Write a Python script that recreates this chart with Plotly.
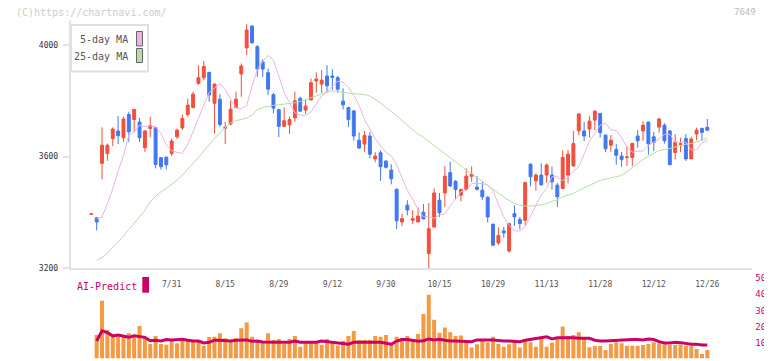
import plotly.graph_objects as go

# ---------------- data ----------------
dates = [
    "2025-07-09", "2025-07-10", "2025-07-11", "2025-07-14", "2025-07-15", "2025-07-16", "2025-07-17", "2025-07-18",
    "2025-07-22", "2025-07-23", "2025-07-24", "2025-07-25", "2025-07-28", "2025-07-29", "2025-07-30", "2025-07-31",
    "2025-08-01", "2025-08-04", "2025-08-05", "2025-08-06", "2025-08-07", "2025-08-08", "2025-08-12", "2025-08-13",
    "2025-08-14", "2025-08-15", "2025-08-18", "2025-08-19", "2025-08-20", "2025-08-21", "2025-08-22", "2025-08-25",
    "2025-08-26", "2025-08-27", "2025-08-28", "2025-08-29", "2025-09-01", "2025-09-02", "2025-09-03", "2025-09-04",
    "2025-09-05", "2025-09-08", "2025-09-09", "2025-09-10", "2025-09-11", "2025-09-12", "2025-09-16", "2025-09-17",
    "2025-09-18", "2025-09-19", "2025-09-22", "2025-09-24", "2025-09-25", "2025-09-26", "2025-09-29", "2025-09-30",
    "2025-10-01", "2025-10-02", "2025-10-03", "2025-10-06", "2025-10-07", "2025-10-08", "2025-10-09", "2025-10-10",
    "2025-10-14", "2025-10-15", "2025-10-16", "2025-10-17", "2025-10-20", "2025-10-21", "2025-10-22", "2025-10-23",
    "2025-10-24", "2025-10-27", "2025-10-28", "2025-10-29", "2025-10-30", "2025-10-31", "2025-11-04", "2025-11-05",
    "2025-11-06", "2025-11-07", "2025-11-10", "2025-11-11", "2025-11-12", "2025-11-13", "2025-11-14", "2025-11-17",
    "2025-11-18", "2025-11-19", "2025-11-20", "2025-11-21", "2025-11-25", "2025-11-26", "2025-11-27", "2025-11-28",
    "2025-12-01", "2025-12-02", "2025-12-03", "2025-12-04", "2025-12-05", "2025-12-08", "2025-12-09", "2025-12-10",
    "2025-12-11", "2025-12-12", "2025-12-15", "2025-12-16", "2025-12-17", "2025-12-18", "2025-12-19", "2025-12-22",
    "2025-12-23", "2025-12-24", "2025-12-25", "2025-12-26",
]

opens = [3393, 3381, 3576, 3611, 3665, 3692, 3668, 3751, 3733, 3724, 3632, 3701, 3704, 3596, 3598, 3611,
         3671, 3703, 3751, 3776, 3863, 3883, 3902, 3791, 3806, 3702, 3717, 3776, 3896, 3990, 4068, 3994,
         3939, 3901, 3822, 3768, 3709, 3714, 3739, 3809, 3767, 3803, 3871, 3860, 3889, 3889, 3883, 3799,
         3776, 3764, 3659, 3645, 3674, 3592, 3614, 3584, 3552, 3483, 3366, 3426, 3372, 3366, 3401, 3253,
         3348, 3444, 3470, 3543, 3512, 3462, 3483, 3530, 3491, 3480, 3455, 3358, 3291, 3334, 3262, 3396,
         3375, 3372, 3573, 3513, 3534, 3534, 3534, 3498, 3486, 3534, 3567, 3693, 3692, 3699, 3731, 3755,
         3677, 3641, 3626, 3602, 3597, 3597, 3674, 3692, 3724, 3671, 3706, 3713, 3692, 3615, 3644, 3665,
         3592, 3681, 3701, 3705]
highs = [3395, 3384, 3705, 3647, 3705, 3745, 3743, 3761, 3772, 3739, 3695, 3743, 3707, 3599, 3601, 3665,
         3701, 3751, 3808, 3833, 3928, 3943, 3904, 3863, 3824, 3725, 3800, 3833, 3934, 4075, 4071, 4000,
         3949, 3916, 3829, 3772, 3776, 3743, 3833, 3815, 3803, 3880, 3902, 3910, 3928, 3913, 3889, 3845,
         3779, 3767, 3687, 3692, 3688, 3616, 3623, 3588, 3573, 3486, 3396, 3444, 3408, 3418, 3430, 3434,
         3486, 3470, 3566, 3582, 3516, 3486, 3558, 3566, 3530, 3510, 3458, 3360, 3346, 3348, 3363, 3426,
         3384, 3510, 3576, 3540, 3576, 3576, 3564, 3506, 3623, 3623, 3692, 3755, 3725, 3745, 3767, 3757,
         3680, 3677, 3645, 3617, 3638, 3650, 3695, 3727, 3726, 3689, 3739, 3719, 3695, 3681, 3668, 3681,
         3671, 3704, 3704, 3735]
lows = [3393, 3336, 3519, 3585, 3638, 3645, 3653, 3653, 3689, 3652, 3617, 3669, 3558, 3554, 3554, 3602,
        3663, 3695, 3743, 3773, 3857, 3874, 3797, 3683, 3707, 3645, 3712, 3773, 3815, 3964, 4004, 3886,
        3886, 3821, 3755, 3670, 3707, 3682, 3725, 3761, 3753, 3803, 3829, 3829, 3829, 3839, 3829, 3769,
        3707, 3657, 3628, 3617, 3594, 3580, 3513, 3558, 3501, 3341, 3351, 3390, 3358, 3366, 3376, 3199,
        3346, 3384, 3420, 3492, 3448, 3440, 3480, 3510, 3478, 3444, 3364, 3280, 3283, 3310, 3256, 3352,
        3340, 3354, 3494, 3478, 3497, 3507, 3482, 3420, 3483, 3504, 3564, 3677, 3656, 3668, 3695, 3669,
        3616, 3617, 3571, 3564, 3567, 3567, 3632, 3657, 3607, 3620, 3686, 3647, 3571, 3589, 3617, 3585,
        3592, 3659, 3657, 3692]
closes = [3395, 3366, 3641, 3641, 3699, 3675, 3735, 3689, 3769, 3668, 3692, 3712, 3572, 3564, 3571, 3656,
          3695, 3737, 3785, 3824, 3883, 3923, 3821, 3860, 3715, 3705, 3770, 3806, 3925, 4054, 4008, 3914,
          3914, 3842, 3774, 3709, 3729, 3733, 3800, 3763, 3781, 3865, 3878, 3874, 3854, 3884, 3842, 3786,
          3733, 3674, 3631, 3676, 3609, 3602, 3564, 3562, 3521, 3370, 3378, 3409, 3378, 3387, 3377, 3342,
          3470, 3399, 3530, 3495, 3482, 3482, 3530, 3537, 3483, 3456, 3384, 3283, 3318, 3327, 3360, 3384,
          3360, 3507, 3528, 3534, 3499, 3570, 3510, 3456, 3597, 3609, 3647, 3753, 3674, 3727, 3763, 3686,
          3628, 3659, 3605, 3590, 3599, 3647, 3657, 3713, 3646, 3651, 3735, 3657, 3571, 3652, 3646, 3592,
          3663, 3695, 3687, 3695]

ma5 = [None, 3377, 3384, 3432, 3484, 3548, 3604, 3678, 3688, 3713, 3707, 3711, 3706, 3683, 3642, 3622,
       3615, 3612, 3645, 3689, 3739, 3785, 3830, 3847, 3862, 3840, 3805, 3774, 3771, 3784, 3852, 3913,
       3941, 3963, 3946, 3890, 3831, 3794, 3757, 3749, 3747, 3761, 3788, 3817, 3832, 3850, 3871, 3866,
       3848, 3820, 3784, 3733, 3700, 3665, 3638, 3616, 3603, 3572, 3524, 3479, 3448, 3411, 3384, 3386,
       3379, 3391, 3395, 3424, 3447, 3475, 3478, 3504, 3505, 3503, 3498, 3478, 3429, 3385, 3354, 3334,
       3334, 3350, 3388, 3428, 3463, 3486, 3528, 3528, 3514, 3526, 3548, 3564, 3612, 3656, 3682, 3713,
       3721, 3696, 3693, 3668, 3634, 3616, 3620, 3620, 3641, 3652, 3663, 3680, 3680, 3652, 3653, 3652,
       3624, 3625, 3650, 3657]
ma25 = [None, 3229, 3238, 3253, 3277, 3295, 3315, 3339, 3360, 3384, 3408, 3438, 3458, 3474, 3486, 3500,
        3516, 3534, 3554, 3576, 3597, 3620, 3644, 3665, 3686, 3705, 3721, 3729, 3733, 3738, 3749, 3769,
        3776, 3781, 3784, 3786, 3788, 3791, 3793, 3798, 3805, 3812, 3819, 3824, 3831, 3836, 3833, 3829,
        3827, 3825, 3824, 3823, 3817, 3806, 3793, 3776, 3763, 3747, 3729, 3712, 3696, 3681, 3669, 3654,
        3642, 3626, 3611, 3597, 3580, 3564, 3552, 3539, 3525, 3512, 3495, 3481, 3468, 3455, 3443, 3432,
        3426, 3423, 3423, 3424, 3427, 3432, 3440, 3445, 3456, 3462, 3468, 3479, 3489, 3497, 3506, 3515,
        3519, 3523, 3527, 3533, 3546, 3561, 3576, 3590, 3602, 3611, 3622, 3626, 3629, 3635, 3641, 3645,
        3647, 3653, 3659, 3665]

volume = [None, 14.6, 36.0, 17.8, 15.0, 13.6, 13.6, 15.7, 13.2, 20.3, 13.2, 9.0, 14.0, 9.0, 8.5, 11.2,
          9.5, 12.0, 11.0, 11.0, 11.0, 8.0, 13.4, 13.6, 15.7, 12.6, 11.6, 12.6, 18.8, 22.4, 13.6, 11.6,
          10.5, 15.7, 11.6, 12.2, 9.0, 12.2, 14.0, 7.4, 9.9, 9.9, 9.9, 8.5, 12.2, 10.5, 8.1, 11.0,
          14.1, 17.2, 11.6, 11.6, 11.6, 14.0, 13.6, 14.7, 8.4, 13.6, 12.6, 14.1, 11.6, 15.3, 27.8, 39.7,
          24.1, 16.1, 19.3, 16.3, 14.1, 14.3, 11.6, 6.8, 8.9, 12.2, 9.9, 13.6, 9.1, 7.4, 8.9, 10.1,
          6.8, 11.0, 10.1, 7.4, 13.0, 7.4, 9.9, 12.6, 19.9, 14.1, 14.7, 16.3, 12.6, 7.0, 7.8, 8.0,
          5.3, 9.1, 10.1, 9.5, 8.0, 8.0, 8.0, 8.4, 9.1, 10.1, 9.5, 8.9, 8.4, 8.4, 8.9, 8.0,
          8.0, 5.9, 2.8, 5.3]
ai_predict = [None, 10.9, 17.2, 16.1, 14.1, 14.7, 14.1, 13.2, 14.1, 13.6, 13.2, 11.1, 11.4, 10.9, 11.8, 11.6,
              11.6, 12.0, 11.4, 10.9, 10.9, 9.7, 10.1, 11.4, 11.4, 11.1, 10.9, 11.4, 11.6, 11.6, 10.7, 10.9,
              10.3, 10.1, 10.1, 10.1, 10.1, 10.1, 10.9, 10.1, 10.1, 10.1, 10.1, 10.9, 10.5, 9.9, 9.5, 9.3,
              8.9, 10.1, 10.1, 10.1, 10.1, 10.1, 10.1, 9.5, 8.9, 10.9, 11.8, 11.8, 11.4, 10.7, 11.1, 12.2,
              11.6, 12.0, 11.4, 10.9, 10.9, 10.9, 10.9, 10.5, 11.6, 11.8, 11.6, 11.6, 11.1, 10.9, 10.9, 10.9,
              10.5, 11.4, 12.0, 12.2, 12.8, 13.6, 12.2, 13.0, 13.0, 13.2, 13.0, 12.6, 12.6, 12.6, 11.4, 10.9,
              10.9, 11.1, 11.6, 11.6, 11.6, 11.8, 11.8, 11.6, 12.2, 11.8, 10.5, 9.7, 9.7, 10.1, 9.9, 9.3,
              8.9, 8.9, 8.4, 8.4]

label_dates = ["2025-07-31", "2025-08-15", "2025-08-29", "2025-09-12", "2025-09-30", "2025-10-15",
               "2025-10-29", "2025-11-13", "2025-11-28", "2025-12-12", "2025-12-26"]
label_text = ["7/31", "8/15", "8/29", "9/12", "9/30", "10/15", "10/29", "11/13", "11/28", "12/12", "12/26"]
price_ticks = [3200, 3600, 4000]
volume_ticks = [0, 10, 20, 30, 40, 50]

# ---------------- styling ----------------
# the page body has an 8px margin, so the figure is made 8px smaller and
# every screen position below is given in window pixels and shifted by it
OFF = 8
W, H = 772 - OFF, 361 - OFF
MONO = "DejaVu Sans Mono"
RED, BLUE = "#F0503C", "#4078EE"
PINK, GREEN = "#E8B4E8", "#B6DCAA"
CRIMSON = "#CC0066"
ORANGE = "#F39A44"
AXIS = "#E2E2E2"

def px_x(p):
    return (p - OFF) / W

def px_y(p):
    return 1 - (p - OFF) / H

x_dom = [px_x(70.7), px_x(752.3)]
x_range = [-3.85, 123.4]

fig = go.Figure()

fig.add_trace(go.Candlestick(
    x=dates, open=opens, high=highs, low=lows, close=closes,
    increasing=dict(line=dict(color=RED, width=1), fillcolor=RED),
    decreasing=dict(line=dict(color=BLUE, width=1), fillcolor=BLUE),
    whiskerwidth=0, showlegend=False, hoverinfo="skip",
    xaxis="x", yaxis="y",
))
fig.add_trace(go.Scatter(x=dates, y=ma25, mode="lines", line=dict(color=GREEN, width=1),
                         showlegend=False, hoverinfo="skip", xaxis="x", yaxis="y"))
fig.add_trace(go.Scatter(x=dates, y=ma5, mode="lines", line=dict(color=PINK, width=1),
                         showlegend=False, hoverinfo="skip", xaxis="x", yaxis="y"))

fig.add_trace(go.Bar(x=dates, y=volume, marker=dict(color=ORANGE, line=dict(width=0)),
                     showlegend=False, hoverinfo="skip", xaxis="x2", yaxis="y2"))
fig.add_trace(go.Scatter(x=dates, y=ai_predict, mode="lines", line=dict(color=CRIMSON, width=3),
                         showlegend=False, hoverinfo="skip", xaxis="x2", yaxis="y2"))

fig.update_layout(
    template="none",
    width=W, height=H, autosize=False,
    margin=dict(l=0, r=0, t=0, b=0, pad=0),
    paper_bgcolor="white", plot_bgcolor="white",
    boxgap=0.22, bargap=0.25,
    showlegend=False,
    font=dict(family=MONO, size=10, color="#444"),
    xaxis=dict(
        domain=x_dom, anchor="y", type="category", range=x_range, automargin=False,
        rangeslider=dict(visible=False),
        showgrid=False, zeroline=False,
        showline=True, linecolor=AXIS, linewidth=2,
        ticks="", tickvals=label_dates, ticktext=label_text,
        tickfont=dict(family=MONO, size=8, color="#555"),
        ticklabelstandoff=7,
    ),
    xaxis3=dict(
        domain=x_dom, anchor="y", overlaying="x", range=[0, 11], automargin=False,
        tickvals=list(range(1, 12)), ticks="outside", ticklen=5, tickwidth=2, tickcolor=AXIS,
        showticklabels=False, showgrid=False, zeroline=False, showline=False,
    ),
    xaxis4=dict(
        domain=x_dom, anchor="y", overlaying="x", range=[0, 11], automargin=False,
        tickvals=list(range(1, 12)), ticks="inside", ticklen=3, tickwidth=2, tickcolor=AXIS,
        showticklabels=False, showgrid=False, zeroline=False, showline=False,
    ),
    yaxis=dict(
        domain=[px_y(268.3), px_y(20)], anchor="x", range=[3200, 4089.7], automargin=False,
        showgrid=False, zeroline=False,
        showline=True, linecolor=AXIS, linewidth=2,
        tickvals=price_ticks, ticks="outside", ticklen=6, tickwidth=2, tickcolor=AXIS,
        tickfont=dict(family=MONO, size=8, color="#333"),
        ticklabelstandoff=3,
    ),
    xaxis2=dict(
        domain=x_dom, anchor="y2", type="category", range=x_range, matches="x", automargin=False,
        showticklabels=False, ticks="", showgrid=False, zeroline=False, showline=False,
        rangeslider=dict(visible=False),
    ),
    yaxis2=dict(
        domain=[px_y(358.5), px_y(278.3)], anchor="x2", side="right", range=[0, 50], automargin=False,
        tickvals=volume_ticks, ticks="", showgrid=False, zeroline=False, showline=False,
        tickfont=dict(family=MONO, size=9, color=CRIMSON),
        ticklabelstandoff=2,
    ),
)

# decorations: watermark, code, legend box, AI-Predict label
fig.add_annotation(text="(C)https://chartnavi.com/", xref="paper", yref="paper",
                   x=px_x(14), y=px_y(12.3), xanchor="left", yanchor="middle", showarrow=False,
                   font=dict(family=MONO, size=10, color="#CCCCCC"))
fig.add_annotation(text="7649", xref="paper", yref="paper",
                   x=px_x(758), y=px_y(12), xanchor="right", yanchor="middle", showarrow=False,
                   font=dict(family=MONO, size=9, color="#BBBBBB"))

fig.add_shape(type="rect", xref="paper", yref="paper",
              x0=px_x(71), x1=px_x(148), y0=px_y(71.5), y1=px_y(25),
              line=dict(color="#E0E0E0", width=2), fillcolor="white", layer="above")
fig.add_annotation(text="5-day MA", xref="paper", yref="paper",
                   x=px_x(130), y=px_y(39.5), xanchor="right", yanchor="middle", showarrow=False,
                   font=dict(family=MONO, size=10, color="#555"))
fig.add_annotation(text="25-day MA", xref="paper", yref="paper",
                   x=px_x(130), y=px_y(56.5), xanchor="right", yanchor="middle", showarrow=False,
                   font=dict(family=MONO, size=10, color="#555"))
fig.add_shape(type="rect", xref="paper", yref="paper",
              x0=px_x(136.5), x1=px_x(142.5), y0=px_y(46), y1=px_y(31.5),
              line=dict(color="#666", width=1), fillcolor=PINK, layer="above")
fig.add_shape(type="rect", xref="paper", yref="paper",
              x0=px_x(136.5), x1=px_x(142.5), y0=px_y(62.5), y1=px_y(48.5),
              line=dict(color="#666", width=1), fillcolor=GREEN, layer="above")

fig.add_annotation(text="AI-Predict", xref="paper", yref="paper",
                   x=px_x(75), y=px_y(286), xanchor="left", yanchor="middle", showarrow=False,
                   font=dict(family=MONO, size=10, color=CRIMSON))
fig.add_shape(type="rect", xref="paper", yref="paper",
              x0=px_x(142.3), x1=px_x(149), y0=px_y(292.7), y1=px_y(277),
              line=dict(width=0), fillcolor=CRIMSON, layer="above")

fig.write_html("out.html")
